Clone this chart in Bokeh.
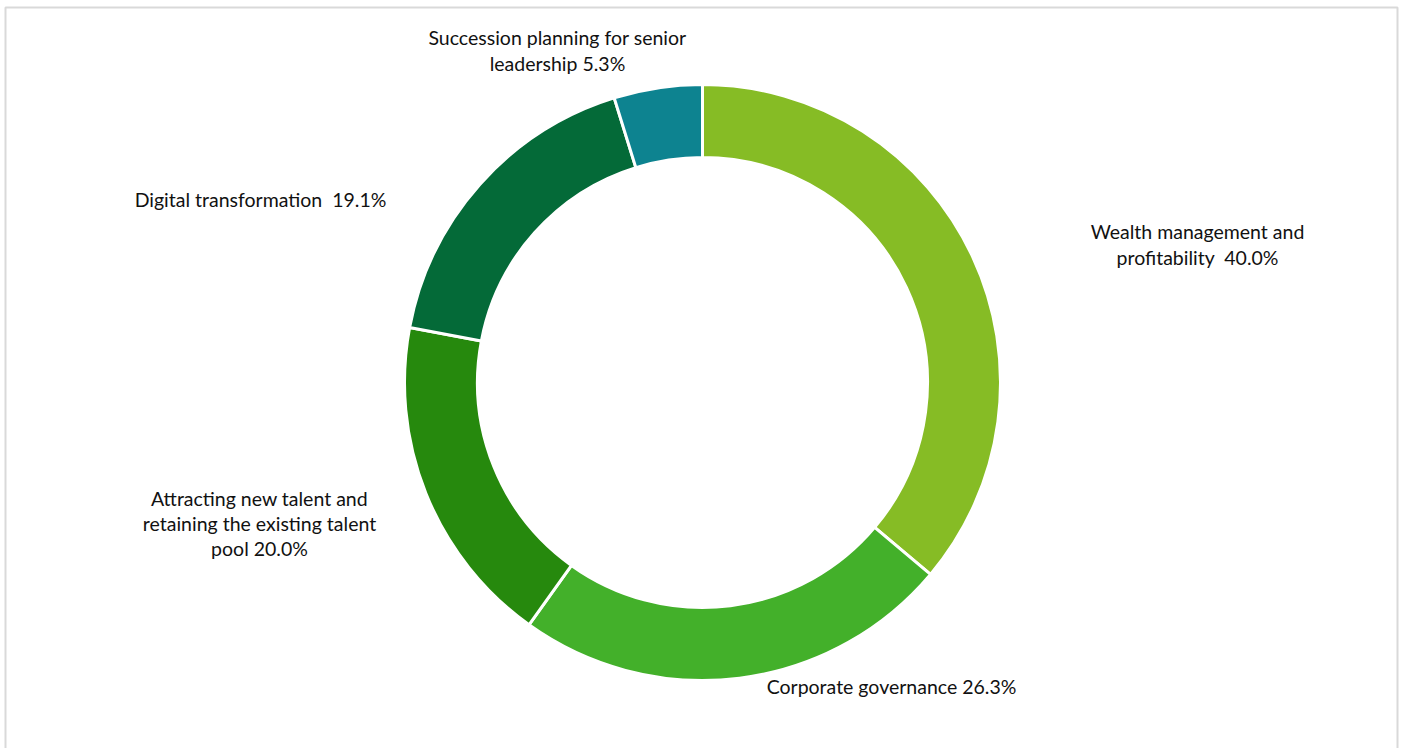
import math
from bokeh.plotting import figure
from bokeh.models import ColumnDataSource, Range1d
from bokeh.core.properties import value
from bokeh.embed import file_html
from bokeh.resources import INLINE

# ---- data ----
categories = [
    "Wealth management and\nprofitability\u00a0 40.0%",
    "Corporate governance 26.3%",
    "Attracting new talent and\nretaining the existing talent\npool 20.0%",
    "Digital transformation\u00a0 19.1%",
    "Succession planning for senior\nleadership 5.3%",
]
values = [40.0, 26.3, 20.0, 19.1, 5.3]
colors = ["#86BC25", "#43B02A", "#26890D", "#046A38", "#0D8390"]

# ---- layout ----
W, H = 1404, 748
cx, cy = 702, H - 382
r_out, r_in = 298, 225
# label anchor positions (pixel coords from top-left)
label_px = [(1197, 244), (891, 686), (259, 523), (260, 199), (557, 50)]

total = sum(values)
starts, ends = [], []
acc = 0.0
for v in values:
    a0 = math.pi / 2 - acc / total * 2 * math.pi
    acc += v
    a1 = math.pi / 2 - acc / total * 2 * math.pi
    starts.append(a0)
    ends.append(a1)

src = ColumnDataSource(dict(start=starts, end=ends, color=colors))

p = figure(width=W, height=H, x_range=Range1d(0, W), y_range=Range1d(0, H),
           output_backend="svg", toolbar_location=None, min_border=0,
           outline_line_color=None)
p.axis.visible = False
p.grid.visible = False
p.background_fill_color = "white"
p.border_fill_color = "white"

# chart area border
p.quad(left=[5], right=[1397], top=[H - 7], bottom=[-10], fill_color=None,
       line_color="#d9d9d9", line_width=2)

p.annular_wedge(x=cx, y=cy, inner_radius=r_in, outer_radius=r_out,
                start_angle="start", end_angle="end", direction="clock",
                fill_color="color", line_color="white", line_width=3, source=src)

lsrc = ColumnDataSource(dict(x=[q[0] for q in label_px], y=[H - q[1] for q in label_px], t=categories))
p.text(x="x", y="y", text="t", source=lsrc, text_align="center", text_baseline="middle",
       text_font=value("Lato"), text_font_size="19.5px", text_color="#111111",
       text_line_height=1.1)

open("out.html", "w").write(file_html(p, INLINE))
